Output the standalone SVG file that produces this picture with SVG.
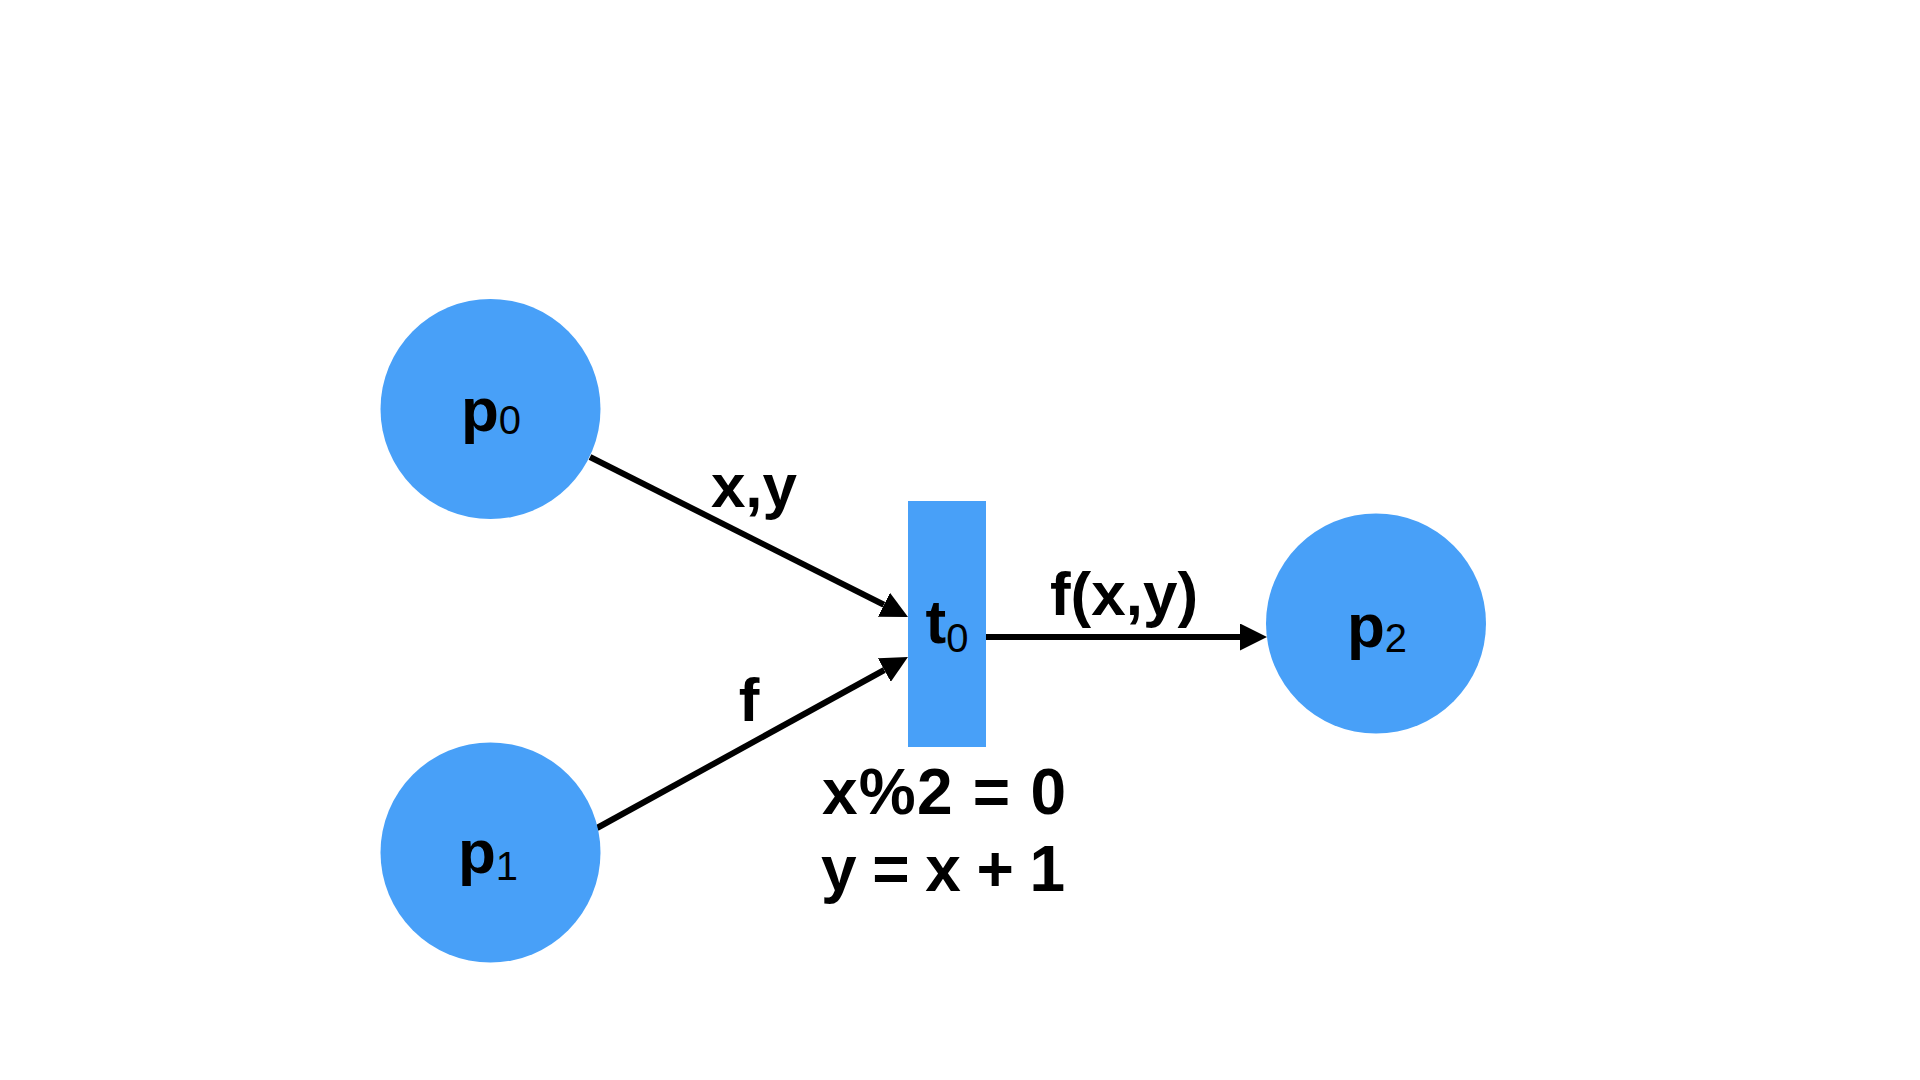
<svg xmlns="http://www.w3.org/2000/svg" width="1920" height="1080" viewBox="0 0 1920 1080">
  <style>
    .place { fill: #48A0F8; }
    .trans { fill: #48A0F8; }
    .lbl { font-family: "Liberation Sans", Arial, sans-serif; font-weight: bold; fill: #000; }
    .main { font-size: 62px; }
    .sub { font-size: 40px; font-weight: normal; }
    .tsub { font-size: 40px; font-weight: normal; }
    .edge { font-size: 62px; }
    .eq { font-size: 64px; }
    .arc { stroke: #000; stroke-width: 6; fill: none; }
  </style>
  <defs>
    <marker id="head" markerUnits="userSpaceOnUse" markerWidth="27" markerHeight="27" refX="0" refY="13.5" orient="auto" viewBox="0 0 27 27">
      <path d="M0,0 L27,13.5 L0,27 z" fill="#000"/>
    </marker>
  </defs>
  <rect width="1920" height="1080" fill="#fff"/>

  <g id="connectors">
    <line class="arc" x1="590" y1="457" x2="883.9" y2="604.8" marker-end="url(#head)"/>
    <line class="arc" x1="597" y1="828" x2="884.3" y2="670" marker-end="url(#head)"/>
    <line class="arc" x1="983" y1="637" x2="1240" y2="637" marker-end="url(#head)"/>
    <text class="lbl edge" x="754" y="507" text-anchor="middle">x,y</text>
    <text class="lbl edge" x="749" y="721" text-anchor="middle">f</text>
    <text class="lbl edge" x="1124" y="615" text-anchor="middle">f(x,y)</text>
  </g>

  <g id="p0">
    <circle class="place" cx="490.5" cy="409" r="110"/>
    <text class="lbl main" x="491" y="431" text-anchor="middle">p<tspan class="sub" dy="3">0</tspan></text>
  </g>
  <g id="p1">
    <circle class="place" cx="490.5" cy="852.5" r="110"/>
    <text class="lbl main" x="488" y="873" text-anchor="middle">p<tspan class="sub" dy="7">1</tspan></text>
  </g>
  <g id="p2">
    <circle class="place" cx="1376" cy="623.5" r="110"/>
    <text class="lbl main" x="1377" y="647" text-anchor="middle">p<tspan class="sub" dy="5">2</tspan></text>
  </g>
  <g id="t0">
    <rect class="trans" x="908" y="501" width="78" height="246"/>
    <text class="lbl main" x="947" y="643" text-anchor="middle">t<tspan class="tsub" dy="9">0</tspan></text>
  </g>

  <g id="guard">
    <text class="lbl eq" x="822" y="814" textLength="244" lengthAdjust="spacing">x%2 = 0</text>
    <text class="lbl eq" x="821" y="891" textLength="244" lengthAdjust="spacing">y = x + 1</text>
  </g>
</svg>
